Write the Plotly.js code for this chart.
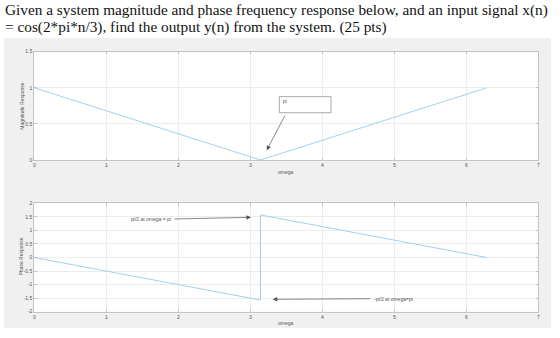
<!DOCTYPE html>
<html>
<head>
<meta charset="utf-8">
<script src="https://cdn.plot.ly/plotly-3.0.1.min.js"></script>
<style>html,body{margin:0;padding:0;background:#fff;}#chart{width:560px;height:338px;}</style>
</head>
<body>
<div id="chart"></div>
<script>
// ---- data ----
const omegaMag = [0, 3.1416, 6.2832];
const magnitude = [1, 0, 1];
const omegaPhase = [0, 3.1416, 3.1416, 6.2832];
const phase = [0, -1.5708, 1.5708, 0];
const xTicks = [0, 1, 2, 3, 4, 5, 6, 7];
const magTicks = [0, 0.5, 1, 1.5];
const phaseTicks = [-2, -1.5, -1, -0.5, 0, 0.5, 1, 1.5, 2];
const headingLines = [
  "Given a system magnitude and phase frequency response below, and an input signal x(n)",
  "= cos(2*pi*n/3), find the output y(n) from the system. (25 pts)"
];
const magLabel = "Magnitude Response";
const phaseLabel = "Phase Response";
const xLabel = "omega";
const noteMag = "pi";
const notePhaseTop = "pi/2 at omega = pi";
const notePhaseBottom = "-pi/2 at omega=pi";

// ---- style ----
const W = 560, H = 338;
const lineColor = '#a3cfec';
const axisFont = {family: 'Liberation Sans, Arial, sans-serif', size: 5, color: '#555'};
const headFont = {family: 'Liberation Serif, Times New Roman, serif', size: 15.3, color: '#111'};
const px = v => v / W;
const py = v => 1 - v / H;

const xDomain = [px(34.3), px(538.3)];
const topDomain = [py(160), py(51.7)];
const botDomain = [py(311.7), py(203.3)];

function axisBase(extra) {
  return Object.assign({
    showgrid: true, gridcolor: '#ececec', gridwidth: 1,
    zeroline: false, showline: true, linecolor: '#c4c4c4', linewidth: 1,
    mirror: 'ticks', ticks: 'inside', ticklen: 2.5, tickcolor: '#b8b8b8', tickwidth: 0.8,
    tickfont: axisFont, fixedrange: true, tickmode: 'array'
  }, extra);
}

const traces = [
  {x: omegaMag, y: magnitude, xaxis: 'x', yaxis: 'y', mode: 'lines',
   line: {color: lineColor, width: 1}, hoverinfo: 'skip'},
  {x: omegaPhase, y: phase, xaxis: 'x2', yaxis: 'y2', mode: 'lines',
   line: {color: lineColor, width: 1}, hoverinfo: 'skip'}
];

const arrowStyle = {showarrow: true, arrowhead: 2, arrowsize: 1.3, arrowwidth: 0.7,
  arrowcolor: '#555', standoff: 0, startstandoff: 0, text: ''};

function paperText(x, y, text, font, extra) {
  return Object.assign({xref: 'paper', yref: 'paper', x: px(x), y: py(y),
    xanchor: 'center', yanchor: 'middle', showarrow: false, text: text, font: font}, extra || {});
}

const layout = {
  width: W, height: H,
  margin: {l: 0, r: 0, t: 0, b: 0},
  paper_bgcolor: '#ffffff', plot_bgcolor: '#ffffff',
  showlegend: false,
  xaxis: axisBase({domain: xDomain, range: [0, 7], tickvals: xTicks, ticktext: xTicks.map(String), anchor: 'y'}),
  yaxis: axisBase({domain: topDomain, range: [0, 1.5], tickvals: magTicks, ticktext: magTicks.map(String), anchor: 'x'}),
  xaxis2: axisBase({domain: xDomain, range: [0, 7], tickvals: xTicks, ticktext: xTicks.map(String), anchor: 'y2'}),
  yaxis2: axisBase({domain: botDomain, range: [-2, 2], tickvals: phaseTicks, ticktext: phaseTicks.map(String), anchor: 'x2'}),
  shapes: [
    {type: 'rect', xref: 'paper', yref: 'paper', x0: px(4), x1: px(551), y0: py(328), y1: py(38),
     fillcolor: '#f0f0f0', line: {width: 0}, layer: 'below'},
    {type: 'rect', xref: 'paper', yref: 'paper', x0: xDomain[0], x1: xDomain[1], y0: topDomain[0], y1: topDomain[1],
     fillcolor: '#ffffff', line: {width: 0}, layer: 'below'},
    {type: 'rect', xref: 'paper', yref: 'paper', x0: xDomain[0], x1: xDomain[1], y0: botDomain[0], y1: botDomain[1],
     fillcolor: '#ffffff', line: {width: 0}, layer: 'below'},
    {type: 'rect', xref: 'x', yref: 'y', x0: 3.403, x1: 4.121, y0: 0.655, y1: 0.877,
     fillcolor: '#ffffff', line: {color: '#aaaaaa', width: 1}, layer: 'above'}
  ],
  annotations: [
    paperText(3, 10, headingLines[0], headFont, {xanchor: 'left'}),
    paperText(3, 27, headingLines[1], headFont, {xanchor: 'left'}),
    paperText(21.7, 106, magLabel, axisFont, {textangle: -90}),
    paperText(20.5, 257, phaseLabel, axisFont, {textangle: -90}),
    paperText(286, 172, xLabel, axisFont),
    paperText(286, 322.5, xLabel, axisFont),
    // top note
    {xref: 'x', yref: 'y', x: 3.43, y: 0.82, xanchor: 'left', yanchor: 'middle', showarrow: false,
     text: noteMag, font: axisFont},
    Object.assign({xref: 'x', yref: 'y', axref: 'x', ayref: 'y', x: 3.228, y: 0.134, ax: 3.49, ay: 0.633}, arrowStyle),
    // bottom notes
    {xref: 'x2', yref: 'y2', x: 1.922, y: 1.41, xanchor: 'right', yanchor: 'middle', showarrow: false,
     text: notePhaseTop, font: axisFont},
    Object.assign({xref: 'x2', yref: 'y2', axref: 'x2', ayref: 'y2', x: 3.01, y: 1.483, ax: 1.93, ay: 1.42}, arrowStyle),
    {xref: 'x2', yref: 'y2', x: 4.69, y: -1.53, xanchor: 'left', yanchor: 'middle', showarrow: false,
     text: notePhaseBottom, font: axisFont},
    Object.assign({xref: 'x2', yref: 'y2', axref: 'x2', ayref: 'y2', x: 3.311, y: -1.542, ax: 4.686, ay: -1.52}, arrowStyle)
  ]
};

Plotly.newPlot('chart', traces, layout, {staticPlot: true, displayModeBar: false});
</script>
</body>
</html>
